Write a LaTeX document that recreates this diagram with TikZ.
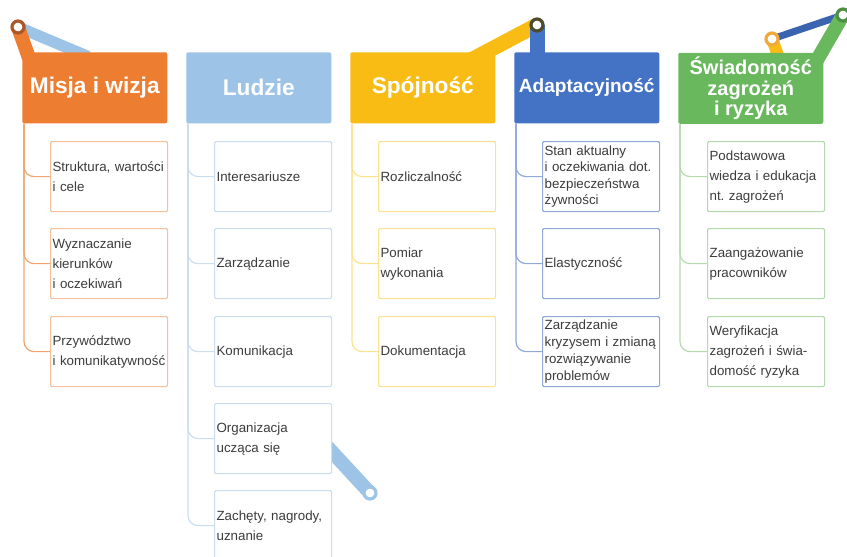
\documentclass[tikz,border=0pt]{standalone}
\usepackage{fontspec}
\setmainfont{Liberation Sans}
\definecolor{cOr}{HTML}{ED7D31}
\definecolor{cOrL}{HTML}{F5C09C}
\definecolor{cOrS}{HTML}{F0A56E}
\definecolor{cLb}{HTML}{9DC3E6}
\definecolor{cLbL}{HTML}{CADDF1}
\definecolor{cGo}{HTML}{F9BC15}
\definecolor{cGoL}{HTML}{FCE28E}
\definecolor{cBl}{HTML}{4472C4}
\definecolor{cBlL}{HTML}{8FA8D6}
\definecolor{cBlD}{HTML}{3A63B0}
\definecolor{cGr}{HTML}{6AB85E}
\definecolor{cGrL}{HTML}{B5DBAC}
\definecolor{txt}{HTML}{3C3C3C}
\tikzset{
  hdr/.style={rectangle, rounded corners=1.5pt, minimum width=108.75pt, minimum height=53.25pt,
    inner sep=0pt, anchor=north west, text=white, align=center,
    font=\bfseries\fontsize{17}{20}\selectfont},
  child/.style={rectangle, rounded corners=1pt, draw, fill=white, line width=0.9pt,
    minimum height=52.5pt, text width=84.75pt, inner xsep=1.5pt, inner ysep=0pt,
    align=left, anchor=north west, text=txt, font=\frenchspacing\fontsize{10}{15}\selectfont},
  branch/.style={line width=0.9pt, rounded corners=7.5pt},
  band/.style={line cap=butt},
  stop/.style={circle, fill=white, minimum size=9pt, inner sep=0pt, line width=2.4pt}
}
\begin{document}
\begin{tikzpicture}[x=0.75pt,y=-0.75pt]
\useasboundingbox (0,0) rectangle (847,557);
\clip (0,0) rectangle (847,557);
% decoration coordinates
\coordinate (s1) at (18,27);
\coordinate (s1b) at (88,56.5);
\coordinate (s1o) at (29,58);
\coordinate (s2) at (537,25);
\coordinate (s2g) at (470,60.5);
\coordinate (s2b) at (537,58);
\coordinate (s3) at (772,39);
\coordinate (s3g) at (779,58);
\coordinate (s4) at (843,15);
\coordinate (s4g) at (817,60);
\coordinate (s5) at (370,493);
\coordinate (s5b) at (322,441);
% bands
\draw[band, cLb, line width=8.5pt] (s1) -- (s1b);
\draw[band, cOr, line width=10.5pt] (s1) -- (s1o);
\draw[band, cGo, line width=11.25pt] (s2) -- (s2g);
\draw[band, cBl, line width=11.25pt] (s2) -- (s2b);
\draw[band, cGo, line width=9pt] (s3) -- (s3g);
\draw[band, cBlD, line width=5.25pt] (s3) -- (s4);
\draw[band, cGr, line width=10.5pt] (s4) -- (s4g);
\draw[band, cLb, line width=10.5pt] (s5) -- (s5b);
% headers
\node[hdr, fill=cOr] (h1) at (22,52) {Misja i wizja};
\node[hdr, fill=cLb] (h2) at (186,52) {Ludzie};
\node[hdr, fill=cGo] (h3) at (350,52) {Spójność};
\node[hdr, fill=cBl, font=\bfseries\fontsize{14.3}{17}\selectfont] (h4) at (514,52) {Adaptacyjność};
\node[hdr, fill=cGr, font=\bfseries\fontsize{15}{15.6}\selectfont] (h5) at (678,52.5) {Świadomość\\zagrożeń\\i ryzyka};
% children
\node[child, draw=cOrL] (c11) at (50,141) {\mbox{Struktura, wartości}\\i cele};
\node[child, draw=cOrL] (c12) at (50,228) {Wyznaczanie\\kierunków\\i oczekiwań};
\node[child, draw=cOrL] (c13) at (50,316) {Przywództwo\\\mbox{i komunikatywność}};
\node[child, draw=cLbL] (c21) at (214,141) {Interesariusze};
\node[child, draw=cLbL] (c22) at (214,228) {Zarządzanie};
\node[child, draw=cLbL] (c23) at (214,316) {Komunikacja};
\node[child, draw=cLbL] (c24) at (214,403) {Organizacja\\ucząca się};
\node[child, draw=cLbL] (c25) at (214,490) {\mbox{Zachęty, nagrody,}\\uznanie};
\node[child, draw=cGoL] (c31) at (378,141) {Rozliczalność};
\node[child, draw=cGoL] (c32) at (378,228) {Pomiar\\wykonania};
\node[child, draw=cGoL] (c33) at (378,316) {Dokumentacja};
\node[child, draw=cBlL, font=\frenchspacing\fontsize{10}{12.4}\selectfont] (c41) at (542,141) {Stan aktualny\\\mbox{i oczekiwania dot.}\\bezpieczeństwa\\żywności};
\node[child, draw=cBlL] (c42) at (542,228) {Elastyczność};
\node[child, draw=cBlL, font=\frenchspacing\fontsize{10}{12.6}\selectfont] (c43) at (542,316) {Zarządzanie\\\mbox{kryzysem i zmianą}\\rozwiązywanie\\problemów};
\node[child, draw=cGrL] (c51) at (707,141) {Podstawowa\\\mbox{wiedza i edukacja}\\nt. zagrożeń};
\node[child, draw=cGrL] (c52) at (707,228) {Zaangażowanie\\pracowników};
\node[child, draw=cGrL] (c53) at (707,316) {Weryfikacja\\\mbox{zagrożeń i świa-}\\domość ryzyka};
% branches
\foreach \c in {c11,c12,c13}{\draw[branch, cOrS] ([xshift=1.5pt]h1.south west) |- (\c.west);}
\foreach \c in {c21,c22,c23,c24,c25}{\draw[branch, cLbL] ([xshift=1.5pt]h2.south west) |- (\c.west);}
\foreach \c in {c31,c32,c33}{\draw[branch, cGoL] ([xshift=1.5pt]h3.south west) |- (\c.west);}
\foreach \c in {c41,c42,c43}{\draw[branch, cBlL] ([xshift=1.5pt]h4.south west) |- (\c.west);}
\foreach \c in {c51,c52,c53}{\draw[branch, cGrL] ([xshift=1.5pt]h5.south west) |- (\c.west);}
% stops
\node[stop, draw={rgb,255:red,170;green,88;blue,40}] (k1) at (s1) {};
\node[stop, draw={rgb,255:red,78;green,74;blue,44}] (k2) at (s2) {};
\node[stop, draw={rgb,255:red,242;green,169;blue,59}] (k3) at (s3) {};
\node[stop, draw={rgb,255:red,76;green,143;blue,69}] (k4) at (s4) {};
\node[stop, draw=cLb] (k5) at (s5) {};
\end{tikzpicture}
\end{document}
